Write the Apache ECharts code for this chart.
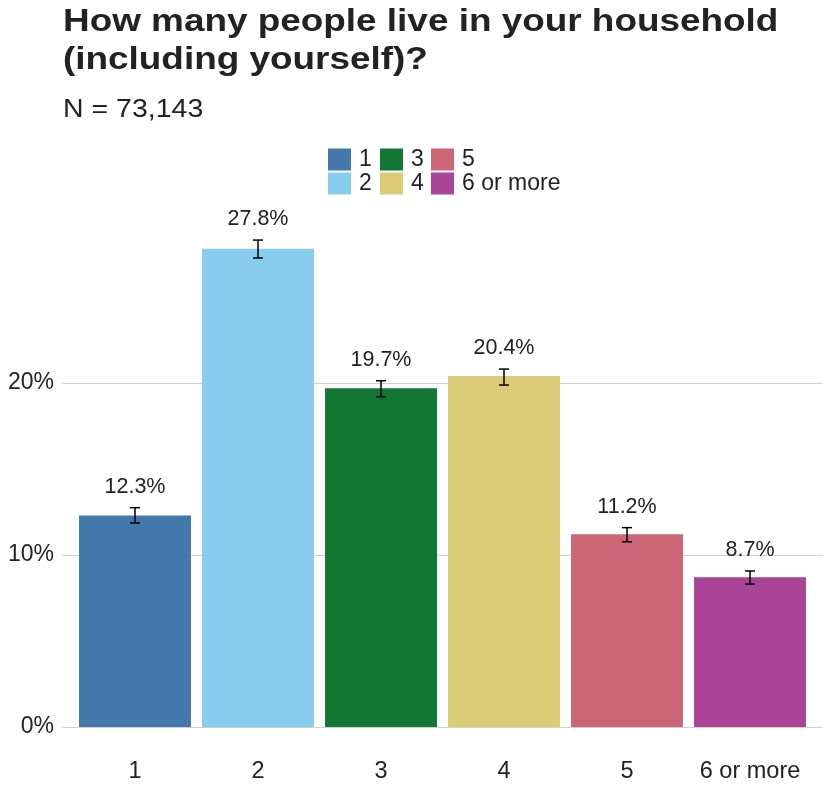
<!DOCTYPE html>
<html>
<head>
<meta charset="utf-8">
<script src="https://cdn.jsdelivr.net/npm/echarts@6/dist/echarts.min.js"></script>
<style>
  html, body { margin: 0; padding: 0; background: #ffffff; }
  #chart { width: 830px; height: 805px; }
</style>
</head>
<body>
<div id="chart"></div>
<script>
const categories = ['1', '2', '3', '4', '5', '6 or more'];
const values = [12.3, 27.8, 19.7, 20.4, 11.2, 8.7];
const errLow = [11.86, 27.27, 19.20, 19.88, 10.77, 8.31];
const errHigh = [12.75, 28.31, 20.13, 20.81, 11.59, 9.07];
const colors = ['#4477AA', '#88CCEE', '#117733', '#DDCC77', '#CC6677', '#AA4499'];
const yTicks = [0, 10, 20];
const titleText = 'How many people live in your household\n(including yourself)?';
const subtitleText = 'N = 73,143';

const FONT = '"Liberation Sans", Arial, Helvetica, sans-serif';
const TEXT = '#222222';

const chart = echarts.init(document.getElementById('chart'), null, { renderer: 'canvas' });

const barSeries = categories.map((c, i) => ({
  name: c,
  type: 'bar',
  stack: 'bars',
  xAxisIndex: 0,
  yAxisIndex: 0,
  barCategoryGap: '9%',
  itemStyle: { color: colors[i] },
  emphasis: { disabled: true },
  data: categories.map((_, j) => (j === i ? values[i] : '-'))
}));

const errData = categories.map((c, i) => [i, errLow[i], errHigh[i], values[i]]);

const errSeries = {
  type: 'custom',
  xAxisIndex: 0,
  yAxisIndex: 0,
  z: 5,
  data: errData,
  renderItem: function (params, api) {
    const i = api.value(0);
    const lo = api.coord([i, api.value(1)]);
    const hi = api.coord([i, api.value(2)]);
    const cap = 5;
    const st = { stroke: '#000000', lineWidth: 1.5 };
    return {
      type: 'group',
      children: [
        { type: 'line', shape: { x1: lo[0], y1: lo[1], x2: hi[0], y2: hi[1] }, style: st },
        { type: 'line', shape: { x1: lo[0] - cap, y1: lo[1], x2: lo[0] + cap, y2: lo[1] }, style: st },
        { type: 'line', shape: { x1: hi[0] - cap, y1: hi[1], x2: hi[0] + cap, y2: hi[1] }, style: st },
        {
          type: 'text',
          style: {
            text: api.value(3).toFixed(1) + '%',
            x: hi[0],
            y: hi[1] - 21,
            align: 'center',
            verticalAlign: 'middle',
            fontSize: 21.5,
            fontFamily: FONT,
            fill: TEXT
          }
        }
      ]
    };
  }
};

const legendCommon = {
  orient: 'vertical',
  top: 148,
  itemWidth: 23,
  itemHeight: 22,
  itemGap: 1,
  icon: 'rect',
  selectedMode: false,
  textStyle: { fontSize: 23, fontFamily: FONT, color: TEXT, padding: [0, 0, 0, 3] },
  padding: 0
};

const option = {
  backgroundColor: '#ffffff',
  animation: false,
  textStyle: { fontFamily: FONT },
  graphic: [
    {
      type: 'text',
      x: 63,
      y: 3,
      scaleX: 1.19,
      style: {
        text: titleText,
        fontSize: 31,
        fontWeight: 'bold',
        fontFamily: FONT,
        fill: TEXT,
        lineHeight: 38,
        verticalAlign: 'top',
        align: 'left'
      }
    },
    {
      type: 'text',
      x: 63,
      y: 98,
      scaleX: 1.14,
      style: {
        text: subtitleText,
        fontSize: 25,
        fontFamily: FONT,
        fill: TEXT,
        verticalAlign: 'top',
        align: 'left'
      }
    }
  ],
  legend: [
    Object.assign({}, legendCommon, { left: 328, data: [categories[0], categories[1]] }),
    Object.assign({}, legendCommon, { left: 380, data: [categories[2], categories[3]] }),
    Object.assign({}, legendCommon, { left: 431, data: [categories[4], categories[5]] })
  ],
  grid: [
    { left: 73.5, right: 18.5, top: 211, bottom: 78, containLabel: false },
    { left: 62, right: 7, top: 211, bottom: 78, containLabel: false }
  ],
  xAxis: [
    {
      type: 'category',
      gridIndex: 0,
      data: categories,
      boundaryGap: true,
      axisLine: { show: false },
      axisTick: { show: false },
      splitLine: { show: false },
      axisLabel: { interval: 0, hideOverlap: false, fontSize: 23.5, fontFamily: FONT, color: TEXT, margin: 33 }
    },
    {
      type: 'value',
      gridIndex: 1,
      min: 0,
      max: 1,
      show: false
    }
  ],
  yAxis: [
    {
      type: 'value',
      gridIndex: 0,
      min: 0,
      max: 30,
      interval: 10,
      show: false,
      splitLine: { show: false }
    },
    {
      type: 'value',
      gridIndex: 1,
      min: 0,
      max: 30,
      interval: 10,
      axisLine: { show: false },
      axisTick: { show: false },
      axisLabel: {
        fontSize: 23,
        fontFamily: FONT,
        color: TEXT,
        margin: 8,
        showMaxLabel: false,
        formatter: function (v) { return yTicks.indexOf(v) >= 0 ? v + '%' : ''; }
      },
      splitLine: { show: true, showMaxLine: false, lineStyle: { color: '#d0d0d0', width: 1 } }
    }
  ],
  series: barSeries.concat([errSeries])
};

chart.setOption(option);
</script>
</body>
</html>
